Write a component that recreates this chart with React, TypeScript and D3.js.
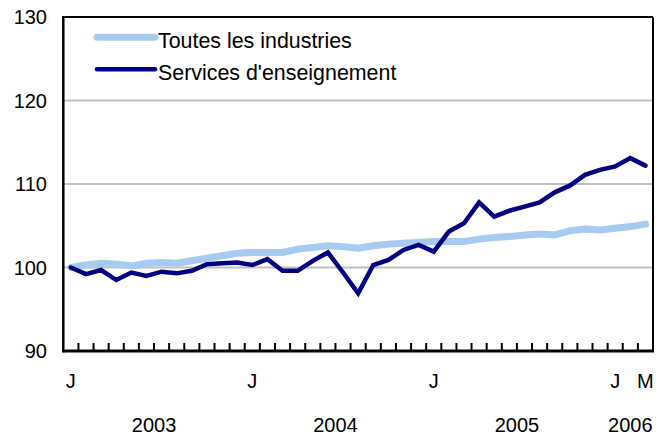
import React from "react";
import * as d3 from "d3";

const months: string[] = [];
for (let y = 2003; y <= 2006; y++) {
  for (let m = 1; m <= 12; m++) {
    if (y === 2006 && m > 3) break;
    months.push(`${y}-${String(m).padStart(2, "0")}`);
  }
}

const toutes = [
  100.0, 100.3, 100.5, 100.4, 100.2, 100.5, 100.6, 100.5, 100.8, 101.1, 101.4, 101.7,
  101.8, 101.8, 101.8, 102.2, 102.4, 102.6, 102.5, 102.3, 102.6, 102.8, 102.9, 103.0,
  103.1, 103.1, 103.1, 103.4, 103.6, 103.7, 103.9, 104.0, 103.9, 104.4, 104.6, 104.5,
  104.7, 104.9, 105.2,
];

const services = [
  100.0, 99.2, 99.7, 98.5, 99.4, 99.0, 99.5, 99.3, 99.6, 100.4, 100.5, 100.6,
  100.3, 101.0, 99.6, 99.6, 100.8, 101.8, 99.4, 96.9, 100.3, 100.9, 102.1, 102.7,
  101.9, 104.3, 105.3, 107.8, 106.1, 106.8, 107.3, 107.8, 109.0, 109.8, 111.1, 111.7,
  112.1, 113.1, 112.2,
];

const monthLabels: Record<string, string> = {
  "2003-01": "J",
  "2004-01": "J",
  "2005-01": "J",
  "2006-01": "J",
  "2006-03": "M",
};

const years = ["2003", "2004", "2005", "2006"];
const yTicks = [90, 100, 110, 120, 130];

const seriesNames = ["Toutes les industries", "Services d'enseignement"];
const colors = ["#a6caf0", "#000080"];

export default function App() {
  const W = 671;
  const H = 435;
  const left = 63.3;
  const right = 653;
  const top = 17;
  const bottom = 351;

  const x = d3.scaleBand<string>().domain(months).range([left, right]).paddingInner(0).paddingOuter(0);
  const y = d3.scaleLinear().domain([90, 130]).range([bottom, top]);
  const cx = (m: string) => (x(m) as number) + x.bandwidth() / 2;

  const line = d3
    .line<number>()
    .x((_, i) => cx(months[i]))
    .y((d) => y(d));

  const font = "Arial, 'Liberation Sans', Helvetica, sans-serif";

  const yearCenter = (yr: string) => {
    const ms = months.filter((m) => m.startsWith(yr));
    const a = x(ms[0]) as number;
    const b = (x(ms[ms.length - 1]) as number) + x.bandwidth();
    return (a + b) / 2;
  };

  return (
    <svg width={W} height={H} style={{ position: "absolute", left: 0, top: 0, background: "#fff" }} fontFamily={font}>
      <rect x={0} y={0} width={W} height={H} fill="#fff" />
      {/* gridlines */}
      {yTicks.filter((t) => t > 90 && t < 130).map((t) => (
        <line key={t} x1={left} x2={right} y1={y(t)} y2={y(t)} stroke="#c0c0c0" strokeWidth={2} />
      ))}
      {/* frame top/right */}
      <line x1={left} x2={right} y1={top} y2={top} stroke="#000" strokeWidth={2} />
      <line x1={right} x2={right} y1={top} y2={bottom} stroke="#000" strokeWidth={2} />
      {/* series */}
      <path d={line(toutes) || ""} fill="none" stroke={colors[0]} strokeWidth={7} strokeLinejoin="round" strokeLinecap="round" />
      <path d={line(services) || ""} fill="none" stroke={colors[1]} strokeWidth={4.5} strokeLinejoin="miter" strokeLinecap="round" />
      {/* axes */}
      <line x1={left} x2={left} y1={top - 1} y2={bottom + 1.5} stroke="#000" strokeWidth={2.5} />
      <line x1={left} x2={right + 1} y1={bottom} y2={bottom} stroke="#000" strokeWidth={3} />
      {months.slice(1).map((m) => (
        <line key={m} x1={x(m) as number} x2={x(m) as number} y1={bottom} y2={bottom - 8} stroke="#000" strokeWidth={2} />
      ))}
      {/* y labels */}
      {yTicks.map((t) => (
        <text key={t} x={47} y={y(t)} dy="0.36em" textAnchor="end" fontSize={20} fill="#000">
          {t}
        </text>
      ))}
      {/* month labels */}
      {months.filter((m) => monthLabels[m]).map((m) => (
        <text key={m} x={cx(m)} y={388} textAnchor="middle" fontSize={20} fill="#000">
          {monthLabels[m]}
        </text>
      ))}
      {/* year labels */}
      {years.map((yr) => (
        <text key={yr} x={yearCenter(yr)} y={432} textAnchor="middle" fontSize={20} fill="#000">
          {yr}
        </text>
      ))}
      {/* legend */}
      {seriesNames.map((n, i) => (
        <g key={n}>
          <line
            x1={97}
            x2={155}
            y1={37.3 + i * 32}
            y2={37.3 + i * 32}
            stroke={colors[i]}
            strokeWidth={i === 0 ? 7 : 4.5}
            strokeLinecap="round"
          />
          <text x={158} y={47.5 + i * 32} fontSize={21.4} fill="#000">
            {n}
          </text>
        </g>
      ))}
    </svg>
  );
}
